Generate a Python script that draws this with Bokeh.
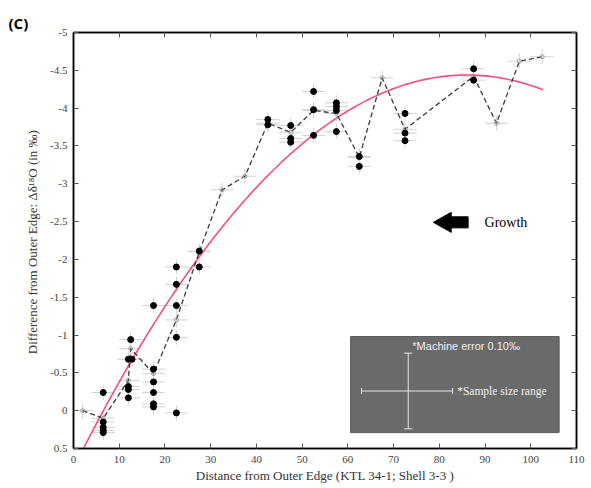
import numpy as np
from bokeh.plotting import figure
from bokeh.models import Range1d, LinearAxis, FixedTicker
from bokeh.core.properties import value
from bokeh.embed import file_html
from bokeh.resources import INLINE

# ---------------- data ----------------
x_ticks = [0, 10, 20, 30, 40, 50, 60, 70, 80, 90, 100, 110]
x_tick_labels = ["0", "10", "20", "30", "40", "50", "60", "70", "80", "90", "100", "110"]
y_ticks = [-5, -4.5, -4, -3.5, -3, -2.5, -2, -1.5, -1, -0.5, 0, 0.5]
y_tick_labels = ["-5", "-4.5", "-4", "-3.5", "-3", "-2.5", "-2", "-1.5", "-1", "-0.5", "0", "0.5"]

# individual measurements (black dots)
dot_x = [6.5, 6.5, 6.5, 6.5, 6.5,
         12.0, 12.8, 12.5, 12.0, 12.0, 12.0,
         17.5, 17.5, 17.5, 17.5, 17.5, 17.5,
         22.5, 22.5, 22.5, 22.5, 22.5,
         27.5, 27.5,
         42.5, 42.5,
         47.5, 47.5, 47.5,
         52.5, 52.5, 52.5,
         57.5, 57.5, 57.5, 57.5,
         62.5, 62.5,
         72.5, 72.5, 72.5,
         87.5, 87.5]
dot_y = [-0.24, 0.15, 0.22, 0.26, 0.29,
         -0.68, -0.68, -0.94, -0.32, -0.28, -0.17,
         -1.39, -0.55, -0.38, -0.24, -0.09, -0.05,
         -1.90, -1.67, -1.39, -0.97, 0.03,
         -2.11, -1.90,
         -3.85, -3.78,
         -3.77, -3.60, -3.55,
         -4.22, -3.98, -3.64,
         -4.07, -4.02, -3.97, -3.69,
         -3.36, -3.23,
         -3.93, -3.67, -3.57,
         -4.52, -4.37]

# mean values (dashed line)
mean_x = [2.0, 6.5, 12.0, 12.5, 17.5, 22.5, 27.5, 32.5, 37.5, 42.5,
          47.5, 52.5, 57.5, 62.5, 67.5, 72.5, 87.5, 92.5, 97.5, 102.5]
mean_y = [0.0, 0.10, -0.40, -0.82, -0.49, -1.20, -2.10, -2.92, -3.10, -3.80,
          -3.68, -3.97, -3.93, -3.35, -4.40, -3.72, -4.42, -3.80, -4.62, -4.68]

# quadratic trend line: y = c0 + c1*x + c2*x^2
fit_c0, fit_c1, fit_c2 = 0.760, -0.1209, 0.000703
fit_x_start, fit_x_end = 2.2, 102.7

# ---------------- styling constants ----------------
X_ERR = 2.5
Y_ERR = 0.1
SERIF = "Liberation Serif"

p = figure(width=591, height=488,
           x_range=Range1d(0, 110), y_range=Range1d(0.5, -5),
           output_backend="svg", toolbar_location=None,
           min_border_left=73, min_border_right=15,
           min_border_top=32, min_border_bottom=40)
p.grid.visible = False
p.outline_line_color = "black"
p.outline_line_width = 1.5
p.background_fill_color = "white"
p.border_fill_color = "white"

p.title.text = "(C)"
p.title.align = "left"
p.title.offset = -65
p.title.standoff = 0
p.title.text_font = "Open Sans"
p.title.text_font_style = "bold"
p.title.text_font_size = "15px"
p.title.text_color = "black"

xa = p.xaxis[0]
xa.ticker = FixedTicker(ticks=x_ticks)
xa.major_label_overrides = {t: l for t, l in zip(x_ticks, x_tick_labels)}
ya = p.yaxis[0]
ya.ticker = FixedTicker(ticks=y_ticks)
ya.major_label_overrides = {t: l for t, l in zip(y_ticks, y_tick_labels)}

top_ax = LinearAxis(ticker=FixedTicker(ticks=x_ticks))
right_ax = LinearAxis(ticker=FixedTicker(ticks=y_ticks))
p.add_layout(top_ax, "above")
p.add_layout(right_ax, "right")

for ax in (xa, ya, top_ax, right_ax):
    ax.axis_line_color = "black"
    ax.axis_line_width = 1.5
    ax.major_tick_in = 5
    ax.major_tick_out = 0
    ax.major_tick_line_color = "#555555"
    ax.minor_tick_line_color = None
    ax.major_label_text_font = SERIF
    ax.major_label_text_font_size = "11px"
    ax.major_label_text_color = "#444444"
    ax.axis_label_text_font = SERIF
    ax.axis_label_text_font_style = "normal"
    ax.axis_label_text_color = "#333333"
    ax.axis_label_text_font_size = "13px"

for ax in (top_ax, right_ax):
    ax.major_label_text_color = None
    ax.major_label_text_font_size = "1px"
    ax.major_label_standoff = 0

xa.major_label_standoff = 7
xa.axis_label = "Distance from Outer Edge (KTL 34-1; Shell 3-3 )"
xa.axis_label_standoff = 2
ya.major_label_standoff = 6
ya.axis_label = "Difference from Outer Edge:  \u0394\u03b4\u00b9\u2078O (in \u2030)"
ya.axis_label_standoff = 7

# error bars (light grey crosses)
all_x = dot_x + mean_x
all_y = dot_y + mean_y
p.segment(x0=[x - X_ERR for x in all_x], x1=[x + X_ERR for x in all_x],
          y0=all_y, y1=all_y, line_color="#d2d2d2", line_width=1)
p.segment(x0=all_x, x1=all_x,
          y0=[y - Y_ERR for y in all_y], y1=[y + Y_ERR for y in all_y],
          line_color="#d2d2d2", line_width=1)

# trend curve
fx = np.linspace(fit_x_start, fit_x_end, 200)
fy = fit_c0 + fit_c1 * fx + fit_c2 * fx ** 2
p.line(fx, fy, line_color="#f4507c", line_width=1.6)

# dashed mean line
p.line(mean_x, mean_y, line_color="#3a3a3a", line_width=1.3, line_dash="5 3")
p.scatter(mean_x, mean_y, marker="circle", size=4, fill_color=None,
          line_color="#999999", line_width=1)

# black dots
p.scatter(dot_x, dot_y, marker="circle", size=6, fill_color="black", line_color="black")

# Growth arrow
ax_tip, ax_head, ax_tail, ay = 78.7, 82.6, 86.3, -2.49
hh, sh = 0.132, 0.073
p.patch([ax_tip, ax_head, ax_head, ax_tail, ax_tail, ax_head, ax_head],
        [ay, ay - hh, ay - sh, ay - sh, ay + sh, ay + sh, ay + hh],
        fill_color="black", line_color="black")
p.text([89.9], [ay], text=["Growth"], text_font=value(SERIF), text_font_size="14px",
       text_baseline="middle", text_align="left", text_color="black")

# legend box for error bars
p.quad(left=[60.6], right=[106.2], top=[-0.98], bottom=[0.29],
       fill_color="#6a6a6a", line_color="#5a5a5a")
lc = "#e6e6e6"
p.segment(x0=[73.2], x1=[73.2], y0=[-0.76], y1=[0.24], line_color=lc, line_width=1)
p.segment(x0=[72.3, 72.3], x1=[74.1, 74.1], y0=[-0.76, 0.24], y1=[-0.76, 0.24], line_color=lc, line_width=1)
p.segment(x0=[63.0], x1=[82.9], y0=[-0.26], y1=[-0.26], line_color=lc, line_width=1)
p.segment(x0=[63.0, 82.9], x1=[63.0, 82.9], y0=[-0.3, -0.3], y1=[-0.22, -0.22], line_color=lc, line_width=1)
p.text([74.1], [-0.85], text=["*Machine error 0.10\u2030"], text_font=value("Liberation Sans"),
       text_font_size="11px", text_baseline="middle", text_color="#f0f0f0")
p.text([83.9], [-0.26], text=["*Sample size range"], text_font=value(SERIF),
       text_font_size="11.5px", text_baseline="middle", text_color="#f0f0f0")

open("out.html", "w").write(file_html(p, INLINE))
